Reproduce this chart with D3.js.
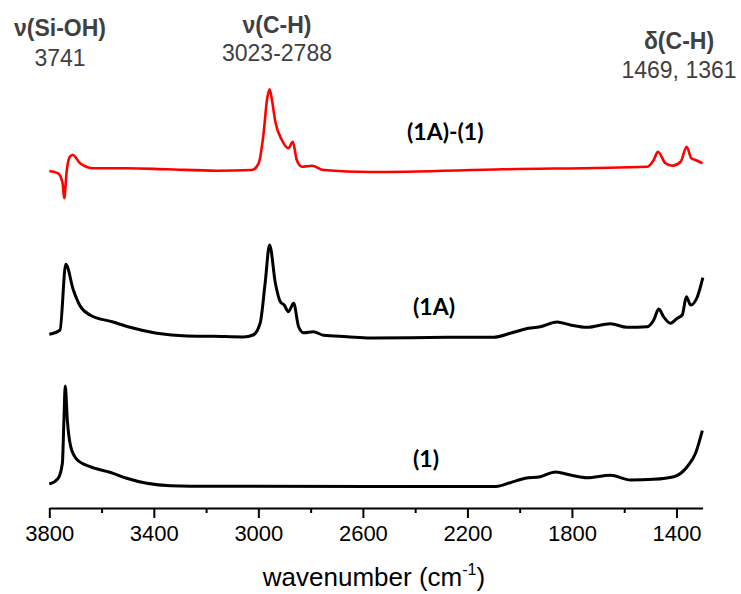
<!DOCTYPE html>
<html>
<head>
<meta charset="utf-8">
<script src="https://cdn.jsdelivr.net/npm/d3@7"></script>
<style>
  body { margin: 0; background: #fff; }
  .tick text { font-family: "Liberation Sans", Arial, sans-serif; }
</style>
</head>
<body>
<svg id="chart" width="741" height="594"></svg>
<script>
// wavenumbers (cm-1) and absorbance (a.u., baseline-relative)
const wn1 = [3800, 3766, 3750, 3744, 3739, 3731, 3718, 3695, 3644, 3568, 3504, 3427, 3337, 3172, 2572,
  2091, 2036, 1979, 1921, 1863, 1806, 1742, 1653, 1576, 1487, 1410, 1359, 1327, 1301];
const abs1 = [0.025, 0.082, 0.232, 0.665, 1.005, 0.665, 0.398, 0.272, 0.198, 0.142, 0.082, 0.032, 0.008, 0.002, 0,
  0, 0.038, 0.082, 0.098, 0.145, 0.115, 0.088, 0.112, 0.065, 0.072, 0.098, 0.198, 0.332, 0.558];

const wn1A = [3800, 3759, 3737, 3708, 3682, 3644, 3556, 3491, 3389, 3274, 3173, 3058, 3020, 2993, 2974, 2957,
  2935, 2916, 2901, 2885, 2865, 2846, 2827, 2789, 2751, 2661, 2572, 2265, 2100, 2036, 1979, 1921, 1857,
  1806, 1742, 1653, 1589, 1512, 1487, 1468, 1448, 1423, 1397, 1378, 1362, 1346, 1320, 1299];
const abs1A = [0.037, 0.08, 0.737, 0.48, 0.32, 0.23, 0.16, 0.107, 0.047, 0.02, 0.017, 0.01, 0.03, 0.15, 0.55, 0.93,
  0.55, 0.363, 0.33, 0.263, 0.347, 0.113, 0.053, 0.063, 0.027, 0.013, 0, 0.007, 0.007, 0.047, 0.09, 0.113, 0.16,
  0.13, 0.107, 0.143, 0.107, 0.113, 0.18, 0.29, 0.207, 0.147, 0.197, 0.23, 0.413, 0.33, 0.413, 0.603];

const wnDiff = [3800, 3766, 3749, 3743, 3733, 3721, 3710, 3682, 3631, 3504, 3350, 3159, 3025, 2999, 2980, 2967,
  2957, 2948, 2935, 2910, 2885, 2868, 2853, 2833, 2795, 2751, 2572, 2061, 1512, 1487, 1471, 1442, 1416,
  1384, 1361, 1343, 1327, 1301];
const absDiff = [0, -0.023, -0.123, -0.273, 0.01, 0.143, 0.16, 0.077, 0.027, 0.027, 0.017, 0.003, 0.01, 0.077, 0.377, 0.71,
  0.817, 0.71, 0.493, 0.31, 0.227, 0.293, 0.11, 0.043, 0.053, 0.01, -0.01, 0.017, 0.043, 0.11, 0.193, 0.077, 0.053,
  0.093, 0.243, 0.127, 0.11, 0.077];

const seriesNames = ["(1)", "(1A)", "(1A)-(1)"];
const seriesOffsets = [0.215, 1.7, 3.37];

const majorTicks = [3800, 3400, 3000, 2600, 2200, 1800, 1400];
const minorTicks = [3600, 3200, 2800, 2400, 2000, 1600];

const bandTitles = ["ν(Si-OH)", "ν(C-H)", "δ(C-H)"];
const bandValues = ["3741", "3023-2788", "1469, 1361"];

const svg = d3.select("#chart");

const x = d3.scaleLinear().domain([3800, 1300]).range([49.3, 702.6]);
const y = d3.scaleLinear().domain([0, 5]).range([508, 8]);

const series = [
  { name: seriesNames[0], wn: wn1, abs: abs1, off: seriesOffsets[0], color: "#000", width: 3 },
  { name: seriesNames[1], wn: wn1A, abs: abs1A, off: seriesOffsets[1], color: "#000", width: 3 },
  { name: seriesNames[2], wn: wnDiff, abs: absDiff, off: seriesOffsets[2], color: "#ff0000", width: 2.6 },
];

const line = d3.line()
  .x((d) => x(d[0]))
  .y((d) => y(d[1]))
  .curve(d3.curveMonotoneX);

svg.selectAll(".spectrum")
  .data(series)
  .join("path")
  .attr("class", "spectrum")
  .attr("fill", "none")
  .attr("stroke", (d) => d.color)
  .attr("stroke-width", (d) => d.width)
  .attr("stroke-linejoin", "round")
  .attr("d", (d) => line(d.wn.map((w, i) => [w, d.abs[i] + d.off])));

// x axis: major + minor ticks
const axisY = y(0);
svg.append("g")
  .attr("transform", `translate(0,${axisY})`)
  .call(d3.axisBottom(x).tickValues(minorTicks).tickSize(5).tickSizeOuter(0).tickFormat(""))
  .call((g) => g.select(".domain").remove())
  .call((g) => g.selectAll("line").attr("stroke-width", 2));

svg.append("g")
  .attr("transform", `translate(0,${axisY})`)
  .call(d3.axisBottom(x).tickValues(majorTicks).tickSize(10).tickSizeOuter(0).tickPadding(7).tickFormat(d3.format("d")))
  .call((g) => g.select(".domain").attr("stroke-width", 2))
  .call((g) => g.selectAll("line").attr("stroke-width", 2))
  .call((g) => g.selectAll("text").attr("font-size", 22).attr("fill", "#000"));

const axisLabel = svg.append("text")
  .attr("x", 374)
  .attr("y", 586)
  .attr("text-anchor", "middle")
  .attr("font-family", "Liberation Sans, Arial, sans-serif")
  .attr("font-size", 26)
  .attr("fill", "#000");
axisLabel.append("tspan").text("wavenumber (cm");
axisLabel.append("tspan").attr("dy", -11).attr("font-size", 16).text("-1");
axisLabel.append("tspan").attr("dy", 11).text(")");

// band annotations
const bandPos = [[60, 36, 66], [277, 33, 61], [679, 49, 78]];
bandTitles.forEach((t, i) => {
  const [cx, y1, y2] = bandPos[i];
  svg.append("text")
    .attr("x", cx).attr("y", y1)
    .attr("text-anchor", "middle")
    .attr("font-family", "Liberation Sans, Arial, sans-serif")
    .attr("font-size", 23)
    .attr("font-weight", "bold")
    .attr("fill", "#404040")
    .text(t);
  svg.append("text")
    .attr("x", cx).attr("y", y2)
    .attr("text-anchor", "middle")
    .attr("font-family", "Liberation Sans, Arial, sans-serif")
    .attr("font-size", 23)
    .attr("fill", "#404040")
    .text(bandValues[i]);
});

// series labels
const labelPos = [[413, 467], [413, 315], [407, 140]];
svg.selectAll(".series-label")
  .data(series)
  .join("text")
  .attr("class", "series-label")
  .attr("x", (d, i) => labelPos[i][0])
  .attr("y", (d, i) => labelPos[i][1])
  .attr("font-family", "Lato, sans-serif")
  .attr("font-weight", "bold")
  .attr("font-size", 23)
  .attr("fill", "#000")
  .text((d) => d.name);
</script>
</body>
</html>
